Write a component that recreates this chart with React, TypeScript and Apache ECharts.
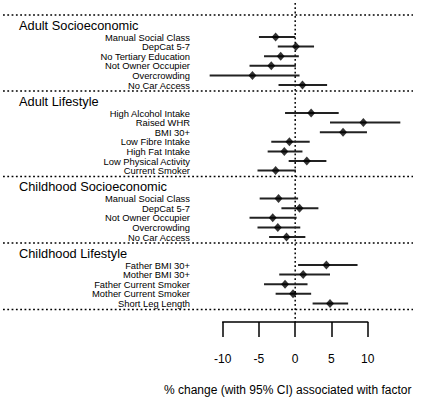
import React, { useEffect, useRef } from "react";
import * as echarts from "echarts";

// ---------- Data ----------
const groupTitles = ["Adult Socioeconomic", "Adult Lifestyle", "Childhood Socioeconomic", "Childhood Lifestyle"];

const adultSocioFactors = ["Manual Social Class", "DepCat 5-7", "No Tertiary Education", "Not Owner Occupier", "Overcrowding", "No Car Access"];
const adultSocioEst = [-2.7, 0.1, -2.0, -3.3, -5.9, 1.0];
const adultSocioLo = [-5.0, -2.4, -4.3, -6.3, -11.8, -2.3];
const adultSocioHi = [0.0, 2.6, 0.5, 0.1, 0.6, 4.4];

const adultLifeFactors = ["High Alcohol Intake", "Raised WHR", "BMI 30+", "Low Fibre Intake", "High Fat Intake", "Low Physical Activity", "Current Smoker"];
const adultLifeEst = [2.2, 9.4, 6.6, -0.8, -1.5, 1.6, -2.7];
const adultLifeLo = [-1.4, 4.8, 3.4, -3.3, -3.8, -0.9, -5.2];
const adultLifeHi = [6.0, 14.5, 9.9, 2.0, 1.0, 4.3, 0.1];

const childSocioFactors = ["Manual Social Class", "DepCat 5-7", "Not Owner Occupier", "Overcrowding", "No Car Access"];
const childSocioEst = [-2.3, 0.6, -3.1, -2.4, -1.2];
const childSocioLo = [-4.9, -1.9, -6.3, -5.2, -3.6];
const childSocioHi = [0.4, 3.2, 0.2, 0.7, 1.4];

const childLifeFactors = ["Father BMI 30+", "Mother BMI 30+", "Father Current Smoker", "Mother Current Smoker", "Short Leg Length"];
const childLifeEst = [4.3, 1.1, -1.4, -0.3, 4.8];
const childLifeLo = [0.4, -2.2, -4.3, -2.7, 2.4];
const childLifeHi = [8.6, 4.8, 1.7, 2.2, 7.3];

const xTicksMin = -10;
const xTicksMax = 10;
const xTickInterval = 5;
const axisTitle = "% change (with 95% CI) associated with factor";

// ---------- Layout ----------
const W = 430;
const H = 401;
const ZERO_PX = 295.2;
const PX_PER_UNIT = 7.25;
const FIRST_SEP = 15;
const HEADER_OFF = 10;
const FIRST_ROW_OFF = 22;
const ROW_STEP = 9.6;
const TAIL_OFF = 6;
const SEP_LEFT_PX = 3;
const SEP_RIGHT_PX = 413;
const ZERO_TOP_PX = 3;
const AXIS_LINE_PX = 322;
const LABEL_RIGHT_PX = 190;
const HEADER_LEFT_PX = 19;
const FONT = "'Liberation Sans', Arial, Helvetica, sans-serif";

const groups = [
  { factors: adultSocioFactors, est: adultSocioEst, lo: adultSocioLo, hi: adultSocioHi },
  { factors: adultLifeFactors, est: adultLifeEst, lo: adultLifeLo, hi: adultLifeHi },
  { factors: childSocioFactors, est: childSocioEst, lo: childSocioLo, hi: childSocioHi },
  { factors: childLifeFactors, est: childLifeEst, lo: childLifeLo, hi: childLifeHi },
];

function buildLayout() {
  const seps: number[] = [FIRST_SEP];
  const labels: { y: number; text: string; header: boolean }[] = [];
  const ci: number[][] = [];
  const pts: number[][] = [];
  let top = FIRST_SEP;
  groups.forEach((g, gi) => {
    labels.push({ y: top + HEADER_OFF, text: groupTitles[gi], header: true });
    g.factors.forEach((f, i) => {
      const y = top + FIRST_ROW_OFF + i * ROW_STEP;
      labels.push({ y, text: f, header: false });
      ci.push([g.lo[i], g.hi[i], y]);
      pts.push([g.est[i], y]);
    });
    top = top + FIRST_ROW_OFF + (g.factors.length - 1) * ROW_STEP + TAIL_OFF;
    seps.push(top);
  });
  return { seps, labels, ci, pts };
}

export default function App() {
  const ref = useRef<HTMLDivElement>(null);
  useEffect(() => {
    document.body.style.margin = "0";
    if (!ref.current) return;
    const chart = echarts.init(ref.current, undefined, { renderer: "svg" });
    const { seps, labels, ci, pts } = buildLayout();
    const xMin = -ZERO_PX / PX_PER_UNIT;
    const xMax = (W - ZERO_PX) / PX_PER_UNIT;

    const option: any = {
      animation: false,
      grid: [
        { left: 0, top: 0, width: W, height: H },
        {
          left: ZERO_PX + xTicksMin * PX_PER_UNIT,
          width: (xTicksMax - xTicksMin) * PX_PER_UNIT,
          top: AXIS_LINE_PX - 10,
          height: 10,
        },
      ],
      xAxis: [
        { type: "value", gridIndex: 0, min: xMin, max: xMax, show: false },
        {
          type: "value",
          gridIndex: 1,
          min: xTicksMin,
          max: xTicksMax,
          interval: xTickInterval,
          position: "bottom",
          splitLine: { show: false },
          axisLine: { show: true, lineStyle: { color: "#000", width: 1.5 } },
          axisTick: { show: true, length: 15, lineStyle: { color: "#000", width: 1.5 } },
          axisLabel: { color: "#000", fontSize: 12, fontFamily: FONT, margin: 31 },
          name: axisTitle,
          nameLocation: "middle",
          nameGap: 62,
          nameTextStyle: { color: "#000", fontSize: 12, fontFamily: FONT, padding: [0, 15, 0, 0] },
        },
      ],
      yAxis: [
        { type: "value", gridIndex: 0, min: 0, max: H, inverse: true, show: false },
        { type: "value", gridIndex: 1, min: 0, max: 1, show: false },
      ],
      series: [
        {
          type: "custom",
          xAxisIndex: 0,
          yAxisIndex: 0,
          silent: true,
          data: seps.map((y) => [y]),
          encode: { y: 0 },
          renderItem: (params: any, api: any) => {
            const py = api.coord([0, api.value(0)])[1];
            return {
              type: "line",
              shape: { x1: SEP_LEFT_PX, y1: py, x2: SEP_RIGHT_PX, y2: py },
              style: { stroke: "#000", lineWidth: 1.5, lineDash: [1.8, 2.5] },
            };
          },
        },
        {
          type: "custom",
          xAxisIndex: 0,
          yAxisIndex: 0,
          silent: true,
          data: [[0]],
          encode: { x: 0 },
          renderItem: (params: any, api: any) => {
            const p1 = api.coord([api.value(0), ZERO_TOP_PX]);
            const p2 = api.coord([api.value(0), AXIS_LINE_PX]);
            return {
              type: "line",
              shape: { x1: p1[0], y1: p1[1], x2: p2[0], y2: p2[1] },
              style: { stroke: "#000", lineWidth: 1.5, lineDash: [1.8, 2.5] },
            };
          },
        },
        {
          type: "custom",
          xAxisIndex: 0,
          yAxisIndex: 0,
          silent: true,
          data: ci,
          encode: { x: [0, 1], y: 2 },
          renderItem: (params: any, api: any) => {
            const p1 = api.coord([api.value(0), api.value(2)]);
            const p2 = api.coord([api.value(1), api.value(2)]);
            return {
              type: "line",
              shape: { x1: p1[0], y1: p1[1], x2: p2[0], y2: p2[1] },
              style: { stroke: "#222", lineWidth: 2 },
            };
          },
        },
        {
          type: "scatter",
          xAxisIndex: 0,
          yAxisIndex: 0,
          silent: true,
          data: pts,
          symbol: "diamond",
          symbolSize: [8, 9],
          itemStyle: { color: "#000" },
        },
        {
          type: "custom",
          xAxisIndex: 0,
          yAxisIndex: 0,
          silent: true,
          data: labels.map((l) => [l.y]),
          encode: { y: 0 },
          renderItem: (params: any, api: any) => {
            const l = labels[params.dataIndex];
            const py = api.coord([0, api.value(0)])[1];
            return {
              type: "text",
              x: l.header ? HEADER_LEFT_PX : LABEL_RIGHT_PX,
              y: py,
              style: {
                text: l.text,
                fill: "#000",
                fontFamily: FONT,
                fontSize: l.header ? 12.8 : 9.4,
                align: l.header ? "left" : "right",
                verticalAlign: "middle",
              },
            };
          },
        },
      ],
    };
    chart.setOption(option);
    return () => chart.dispose();
  }, []);
  return <div ref={ref} style={{ width: W, height: H }} />;
}
